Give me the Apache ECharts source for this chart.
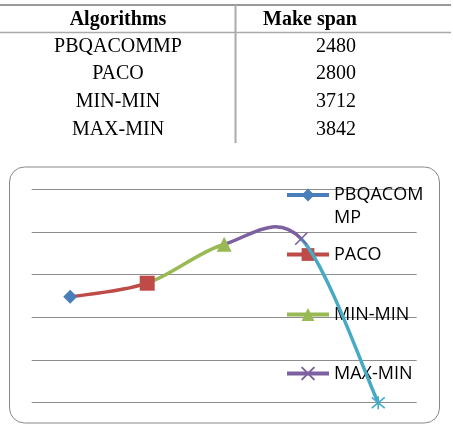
<!DOCTYPE html>
<html>
<head>
<meta charset="utf-8">
<script src="https://cdn.jsdelivr.net/npm/echarts@6/dist/echarts.min.js"></script>
<style>
  html, body { margin: 0; padding: 0; background: #fff; }
  #chart { width: 453px; height: 428px; }
</style>
</head>
<body>
<div id="chart"></div>
<script>
// table / chart data
var algorithms = ['PBQACOMMP', 'PACO', 'MIN-MIN', 'MAX-MIN'];
var makespan = [2480, 2800, 3712, 3842];
var headers = ['Algorithms', 'Make span'];
// the excel line has a fifth (blank) point at 0
var categories = algorithms.concat(['']);
var values = makespan.concat([0]);
var yTicks = [0, 1000, 2000, 3000, 4000, 5000];

var colors = ['#4A7EBB', '#BE4B48', '#98B954', '#7D60A0', '#46AAC5'];
var symbols = [
    'diamond',
    'rect',
    'triangle',
    'path://M0,0L10,10M10,0L0,10',
    'path://M0,0L10,10M10,0L0,10M5,-1L5,11'
];
var symbolSizes = [14, 15, 15, 12, 13];

var chart = echarts.init(document.getElementById('chart'));

// table drawn as graphic elements
var rowY = [46.5, 74, 102, 130];
var graphics = [
    { type: 'line', shape: { x1: 0, y1: 5, x2: 451, y2: 5 }, style: { stroke: '#999', lineWidth: 2 } },
    { type: 'line', shape: { x1: 0, y1: 32.5, x2: 451, y2: 32.5 }, style: { stroke: '#aaa', lineWidth: 1.5 } },
    { type: 'line', shape: { x1: 235.5, y1: 5, x2: 235.5, y2: 143 }, style: { stroke: '#aaa', lineWidth: 2 } },
    { type: 'text', x: 118, y: 20, style: { text: headers[0], font: 'bold 20px "Liberation Serif"', fill: '#000', align: 'center', verticalAlign: 'middle' } },
    { type: 'text', x: 310, y: 20, style: { text: headers[1], font: 'bold 20px "Liberation Serif"', fill: '#000', align: 'center', verticalAlign: 'middle' } },
    // chart frame
    { type: 'rect', shape: { x: 9.5, y: 167, width: 430, height: 256, r: 15 }, style: { fill: 'none', stroke: '#888', lineWidth: 1 }, z: -1 }
];
algorithms.forEach(function (name, i) {
    graphics.push({ type: 'text', x: 118, y: rowY[i], style: { text: name, font: '20px "Liberation Serif"', fill: '#000', align: 'center', verticalAlign: 'middle' } });
    graphics.push({ type: 'text', x: 336, y: rowY[i], style: { text: String(makespan[i]), font: '20px "Liberation Serif"', fill: '#000', align: 'center', verticalAlign: 'middle' } });
});

// excel-style smoothed line: each segment is a bezier (catmull-rom, 1/6),
// coloured by the point it runs into. echarts' own smoothing clamps overshoot.
function renderSegment(params, api) {
    var i = params.dataIndex;
    if (i === 0) return null;
    var n = values.length;
    function pt(j) {
        j = Math.max(0, Math.min(n - 1, j));
        return api.coord([j, values[j]]);
    }
    var p0 = pt(i - 2), p1 = pt(i - 1), p2 = pt(i), p3 = pt(i + 1);
    if (i - 1 === 0) p0 = p1;
    if (i === n - 1) p3 = p2;
    return {
        type: 'bezierCurve',
        shape: {
            x1: p1[0], y1: p1[1],
            cpx1: p1[0] + (p2[0] - p0[0]) / 6, cpy1: p1[1] + (p2[1] - p0[1]) / 6,
            cpx2: p2[0] - (p3[0] - p1[0]) / 6, cpy2: p2[1] - (p3[1] - p1[1]) / 6,
            x2: p2[0], y2: p2[1]
        },
        style: { stroke: colors[i], lineWidth: 3.5, fill: null, lineCap: 'round' }
    };
}

// one series per point, so each algorithm gets its own marker and legend entry
var markerSeries = categories.map(function (name, i) {
    var isPath = symbols[i].indexOf('path://') === 0;
    return {
        name: name || 'blank',
        type: 'line',
        data: values.map(function (v, j) { return j === i ? v : '-'; }),
        symbol: symbols[i],
        symbolSize: symbolSizes[i],
        showAllSymbol: true,
        z: 3,
        itemStyle: isPath
            ? { color: 'none', borderColor: colors[i], borderWidth: 1.6 }
            : { color: colors[i] },
        lineStyle: { color: colors[i], width: 4 }
    };
});

var legendTops = [160.5, 243, 303, 362];
var legends = algorithms.map(function (name, i) {
    return {
        data: [name],
        left: 285,
        top: legendTops[i],
        padding: 0,
        itemWidth: 42,
        itemHeight: 16,
        z: 1,
        selectedMode: false,
        lineStyle: { width: 4 },
        // long name wraps like the excel legend; blank first line keeps
        // the marker level with the first text line
        formatter: i === 0 ? function (n) { return ' \n' + n.slice(0, 7) + '\n' + n.slice(7); } : '{name}',
        textStyle: {
            fontFamily: 'Open Sans',
            fontSize: 18,
            color: '#000',
            lineHeight: 23
        }
    };
});

var option = {
    animation: false,
    graphic: graphics,
    legend: legends,
    grid: { left: 31.7, top: 189.3, width: 385, height: 213.4 },
    xAxis: {
        type: 'category',
        data: categories,
        boundaryGap: true,
        axisLine: { show: false },
        axisTick: { show: false },
        axisLabel: { show: false }
    },
    yAxis: {
        type: 'value',
        min: yTicks[0],
        max: yTicks[yTicks.length - 1],
        interval: 1000,
        axisLine: { show: false },
        axisTick: { show: false },
        axisLabel: { show: false },
        splitLine: { lineStyle: { color: '#8c8c8c', width: 1 } }
    },
    series: [{
        name: 'trend',
        type: 'custom',
        renderItem: renderSegment,
        data: values.map(function (v, i) { return [i, v]; }),
        encode: { x: 0, y: 1 },
        clip: false,
        z: 2
    }].concat(markerSeries)
};
chart.setOption(option);
</script>
</body>
</html>
